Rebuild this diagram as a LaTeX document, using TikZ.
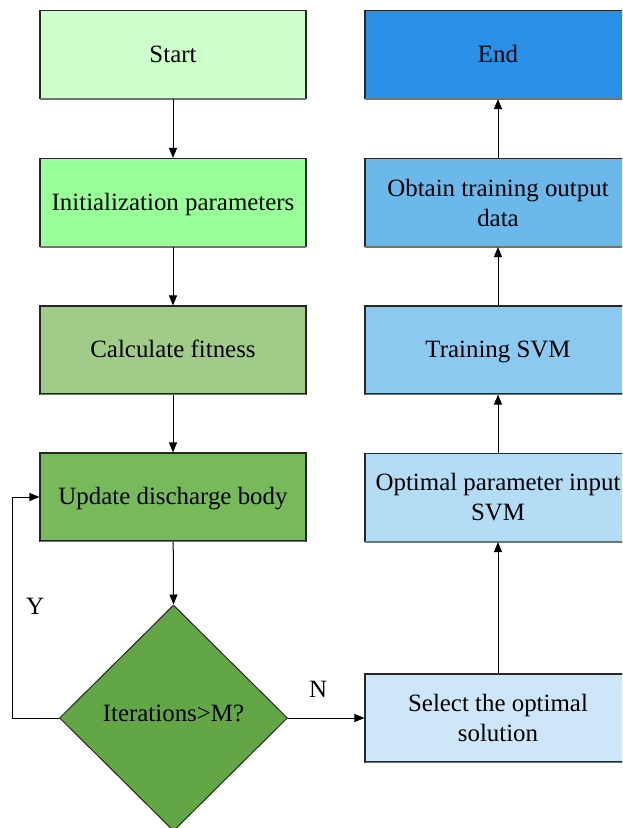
\documentclass[tikz,border=0pt]{standalone}
\usepackage{fontspec}
\setmainfont{Liberation Serif}
\usetikzlibrary{shapes.geometric,arrows.meta}

\definecolor{cStart}{HTML}{CCFFCC}
\definecolor{cInit}{HTML}{99FF99}
\definecolor{cCalc}{HTML}{A0CB89}
\definecolor{cUpd}{HTML}{78B95C}
\definecolor{cDec}{HTML}{63A646}
\definecolor{cEnd}{HTML}{2990E5}
\definecolor{cObt}{HTML}{6CB8EB}
\definecolor{cTrain}{HTML}{8CC9F1}
\definecolor{cOpt}{HTML}{B4DCF5}
\definecolor{cSel}{HTML}{CDE7F8}
\definecolor{cEdge}{HTML}{6B786B}

\begin{document}
\begin{tikzpicture}[x=1pt,y=-1pt,
  txt/.style={font=\fontsize{24.9}{30}\selectfont},
  box/.style={txt, draw=black!85, line width=1.1pt, minimum width=266pt,
    minimum height=88pt, inner sep=2pt, align=center},
  oneline/.style={text height=17pt, text depth=2pt},
  dec/.style={txt, diamond, draw=black!85, line width=1pt, inner sep=0pt,
    minimum width=228pt, minimum height=226pt, align=center},
  flow/.style={line width=1pt, -{Triangle[length=10pt,width=8pt]}},
  bottomedge/.style={draw=cEdge, line width=1.8pt},
  lbl/.style={txt}
]
\useasboundingbox (0,0) rectangle (622,828);
\clip (0,0) rectangle (622,828);

% left column
\node[box, oneline, fill=cStart] (start) at (173,54.5) {Start};
\node[box, oneline, fill=cInit]  (init)  at (173,202.5) {Initialization parameters};
\node[box, oneline, fill=cCalc]  (calc)  at (173,350) {Calculate fitness};
\node[box, oneline, fill=cUpd]   (upd)   at (173,497) {Update discharge body};
\node[dec, fill=cDec] (iter) at (173.5,718) {\raisebox{5pt}[\height][\depth]{Iterations>M?}};

% right column
\node[box, oneline, fill=cEnd]   (end)   at (498,54.5) {End};
\node[box, fill=cObt]   (obt)   at (498,202.5) {Obtain training output\\data};
\node[box, oneline, fill=cTrain] (train) at (498,350) {Training SVM};
\node[box, fill=cOpt]   (opt)   at (498,497.5) {Optimal parameter input\\SVM};
\node[box, fill=cSel]   (sel)   at (498,718) {Select the optimal\\solution};

% greyish lower edge of each box
\foreach \n in {start,init,calc,upd,end,obt,train,opt,sel}
  \draw[bottomedge] ([xshift=0.5pt]\n.south west) -- ([xshift=-0.5pt]\n.south east);

% connectors
\draw[flow] (start) -- (init);
\draw[flow] (init) -- (calc);
\draw[flow] (calc) -- (upd);
\draw[flow] (upd) -- (iter.north);
\coordinate (loop) at (12,718);
\draw[flow] (iter.west) -- (loop) |- (upd.west);
\draw[flow] (iter.east) -- (sel.west);
\draw[flow] (sel) -- (opt);
\draw[flow] (opt) -- (train);
\draw[flow] (train) -- (obt);
\draw[flow] (obt) -- (end);

% branch labels
\node[lbl] (ylab) at (35,606) {Y};
\node[lbl] (nlab) at (318,689) {N};
\end{tikzpicture}
\end{document}
